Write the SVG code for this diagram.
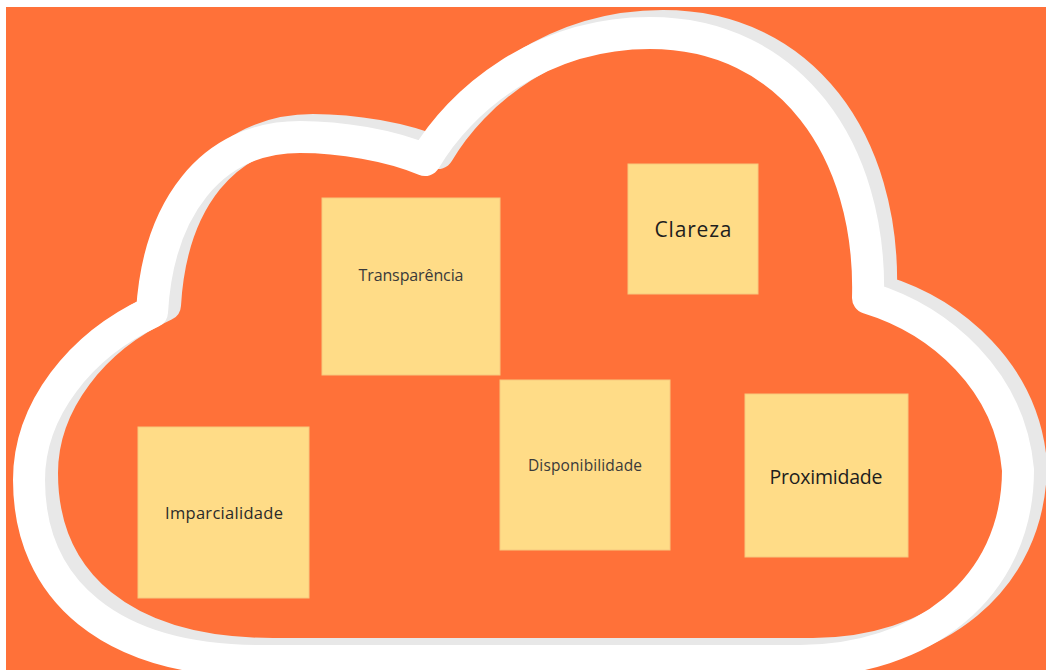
<svg xmlns="http://www.w3.org/2000/svg" width="1046" height="670" viewBox="0 0 1046 670">
  <style>
    .note { fill: #FFDC87; stroke: #F7C97E; stroke-width: 1; }
    .lbl { font-family: "Open Sans", Lato, "Liberation Sans", sans-serif; text-anchor: middle; }
    .cloud { fill: none; stroke-width: 32; stroke-linejoin: round; stroke-linecap: round; }
  </style>
  <defs>
    <path id="cloudPath" d="M 260 661 L 800 661 C 920 661, 1018 590, 1018 470 C 1010 380, 940 320, 868 298 C 872 150, 790 33, 650 33 C 540 33, 460 100, 425 160 C 390 145, 340 137, 300 137 C 210 137, 158 210, 152 312 C 80 345, 29 410, 29 480 C 29 590, 110 661, 260 661 Z"/>
  </defs>
  <rect x="0" y="0" width="1046" height="670" fill="#FFFFFF"/>
  <rect x="6" y="7" width="1040" height="663" fill="#FF7139"/>
  <g id="cloud">
    <use href="#cloudPath" class="cloud" stroke="#E8E8E8" transform="translate(13,-7)"/>
    <use href="#cloudPath" class="cloud" stroke="#FFFFFF"/>
  </g>
  <g id="connectors"></g>
  <g id="transparencia">
    <rect class="note" x="322" y="198" width="178" height="177"/>
    <text class="lbl" x="411" y="281" font-size="16" fill="#3A3A3A" textLength="105">Transparência</text>
  </g>
  <g id="clareza">
    <rect class="note" x="628" y="164" width="130" height="130"/>
    <text class="lbl" x="693" y="237" font-size="21" fill="#1E1E1E" textLength="77">Clareza</text>
  </g>
  <g id="imparcialidade">
    <rect class="note" x="138" y="427" width="171" height="171"/>
    <text class="lbl" x="224" y="519" font-size="16.5" fill="#2A2A2A" textLength="118">Imparcialidade</text>
  </g>
  <g id="disponibilidade">
    <rect class="note" x="500" y="380" width="170" height="170"/>
    <text class="lbl" x="585" y="471" font-size="15.5" fill="#3A3A3A" textLength="114">Disponibilidade</text>
  </g>
  <g id="proximidade">
    <rect class="note" x="745" y="394" width="163" height="163"/>
    <text class="lbl" x="826" y="484" font-size="19.5" fill="#1E1E1E" textLength="113">Proximidade</text>
  </g>
</svg>
